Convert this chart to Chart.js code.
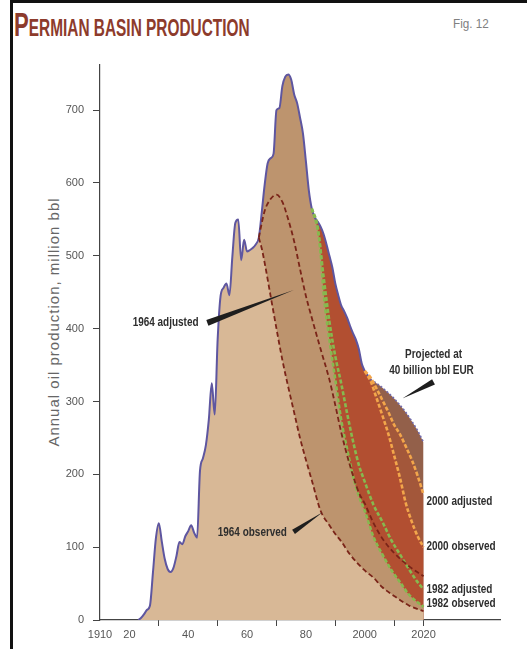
<!DOCTYPE html>
<html>
<head>
<meta charset="utf-8">
<script src="https://cdn.jsdelivr.net/npm/chart.js@4.4.0/dist/chart.umd.min.js"></script>
<style>
  body { margin: 0; width: 527px; height: 649px; position: relative; overflow: hidden; background: #fff; font-family: 'Liberation Sans', Arial, sans-serif }
  #frame { position: absolute; left: 10px; top: 0; right: 0; bottom: 0; border-top: 3px solid #111; border-left: 3px solid #111 }
  #title { position: absolute; left: 14px; top: 8px; color: #8d3b2c; font-family: 'Liberation Sans Narrow', 'Liberation Sans', sans-serif; font-weight: bold; white-space: nowrap; line-height: 34px; transform: scaleX(0.67); transform-origin: 0 0 }
  #title .big { font-size: 33px }
  #title .small { font-size: 23px }
  #fig { position: absolute; left: 453px; top: 17px; color: #808080; font-size: 13px; line-height: 13px; transform: scaleX(0.9); transform-origin: 0 0 }
  #ytitle { position: absolute; left: 53px; top: 322px; transform: translate(-50%, -50%) rotate(-90deg); white-space: nowrap; font-size: 15px; letter-spacing: 1px; color: #666 }
  #chart { position: absolute; left: 0; top: 0 }
</style>
</head>
<body>
<div id="frame"></div>
<div id="title"><span class="big">P</span><span class="small">ERMIAN BASIN PRODUCTION</span></div>
<div id="fig">Fig. 12</div>
<div id="ytitle">Annual oil production, million bbl</div>
<canvas id="chart" width="527" height="649"></canvas>
<script>
// historical production, million bbl/year
const histYears = [1923, 1924, 1925, 1926, 1927, 1928, 1929, 1930, 1931, 1932, 1933, 1934, 1935, 1936, 1937, 1938, 1939,
  1940, 1941, 1942, 1943, 1944, 1945, 1946, 1947, 1948, 1949, 1950, 1951, 1952, 1953, 1954, 1955, 1956, 1957, 1958, 1959,
  1960, 1961, 1962, 1963, 1964, 1965, 1966, 1967, 1968, 1969, 1970, 1971, 1972, 1973, 1974, 1975, 1976, 1977, 1978, 1979,
  1980, 1981, 1982, 1983, 1984, 1985, 1986, 1987, 1988, 1989, 1990, 1991, 1992, 1993, 1994, 1995, 1996, 1997, 1998, 1999,
  2000, 2001, 2002]
const histVals = [0, 3, 8, 14, 20, 65, 112, 133, 108, 84, 70, 66, 72, 88, 107, 104, 115,
  122, 130, 120, 113, 205, 222, 240, 275, 325, 282, 385, 445, 456, 462, 446, 499, 545, 550, 494, 522,
  506, 508, 511, 516, 525, 560, 598, 627, 634, 640, 700, 703, 733, 746, 749, 742, 722, 710, 690, 668,
  630, 590, 565, 553, 547, 540, 530, 516, 500, 484, 462, 446, 432, 424, 415, 404, 394, 385, 372, 352,
  342, 336, 330]

// projected at 40 billion bbl EUR
const projYears = [2002, 2004, 2006, 2008, 2010, 2012, 2014, 2016, 2018, 2020]
const projVals = [330, 325, 319, 312, 304, 295, 285, 273, 260, 244]

// forecasts
const obs64Years = [1964, 1965, 1966, 1968, 1970, 1972, 1974, 1976, 1978, 1980, 1982, 1985, 1988, 1990, 1992, 1995, 2000, 2003, 2006, 2010, 2015, 2020]
const obs64Vals = [525, 510, 490, 445, 400, 357, 320, 285, 250, 220, 192, 150, 130, 118, 108, 90, 68, 58, 45, 33, 20, 12]
const adj64Years = [1964, 1965, 1966, 1968, 1970, 1972, 1974, 1976, 1978, 1980, 1982, 1985, 1988, 1990, 1992, 1995, 1998, 2000, 2003, 2006, 2010, 2015, 2020]
const adj64Vals = [525, 545, 562, 578, 584, 574, 550, 520, 482, 445, 415, 372, 330, 295, 258, 212, 175, 160, 133, 112, 92, 74, 60]
const obs82Years = [1982, 1984, 1985, 1986, 1988, 1990, 1992, 1994, 1996, 1998, 2000, 2003, 2006, 2009, 2012, 2015, 2020]
const obs82Vals = [565, 536, 505, 450, 385, 330, 275, 235, 198, 170, 150, 114, 90, 69, 52, 35, 18]
const adj82Years = [1982, 1984, 1986, 1988, 1990, 1992, 1994, 1996, 1998, 2000, 2003, 2006, 2009, 2012, 2015, 2018, 2020]
const adj82Vals = [565, 540, 472, 410, 362, 325, 284, 246, 213, 190, 158, 135, 110, 90, 70, 52, 42]
const obs00Years = [2000, 2002, 2004, 2006, 2008, 2010, 2012, 2014, 2016, 2018, 2020]
const obs00Vals = [342, 328, 305, 281, 256, 226, 195, 160, 135, 115, 100]
const adj00Years = [2000, 2002, 2004, 2006, 2008, 2010, 2012, 2014, 2016, 2018, 2020]
const adj00Vals = [342, 333, 318, 302, 286, 268, 255, 238, 220, 198, 172]

const xTicks = [1910, 1920, 1930, 1940, 1950, 1960, 1970, 1980, 1990, 2000, 2010, 2020]
const xTickLabels = ['1910', '20', '', '40', '', '60', '', '80', '', '2000', '', '2020']
const yTicks = [0, 100, 200, 300, 400, 500, 600, 700]

function pts(xs, ys) {
  return xs.map((x, i) => ({ x: x, y: ys[i] }))
}

// history up to where a forecast starts, then the forecast
function outline(years, vals) {
  return pts(histYears, histVals).filter(p => p.x < years[0]).concat(pts(years, vals))
}

function area(data, color, order) {
  return { data: data, backgroundColor: color, borderWidth: 0, fill: 'origin', pointRadius: 0, order: order }
}

function line(data, color, width, dash) {
  return { data: data, borderColor: color, borderWidth: width, borderDash: dash, fill: false, pointRadius: 0, order: 1 }
}

function wedge(ctx, x1, y1, x2, y2, w) {
  const dx = x2 - x1, dy = y2 - y1, len = Math.hypot(dx, dy)
  const nx = -dy / len * w / 2, ny = dx / len * w / 2
  ctx.beginPath()
  ctx.moveTo(x1 + nx, y1 + ny)
  ctx.lineTo(x2, y2)
  ctx.lineTo(x1 - nx, y1 - ny)
  ctx.closePath()
  ctx.fill()
}

// condensed label: squeeze the bold face horizontally
function label(ctx, str, x, y, align) {
  ctx.save()
  ctx.translate(x, y)
  ctx.scale(0.83, 1)
  ctx.textAlign = align
  ctx.fillText(str, 0, 0)
  ctx.restore()
}

const notesPlugin = {
  id: 'notes',
  afterDraw(chart) {
    const ctx = chart.ctx
    const sx = chart.scales.x, sy = chart.scales.y
    const X = v => sx.getPixelForValue(v), Y = v => sy.getPixelForValue(v)
    ctx.save()
    ctx.fillStyle = '#2e2e2e'
    ctx.font = "bold 12px 'Liberation Sans', sans-serif"
    ctx.textBaseline = 'middle'
    label(ctx, '1964 adjusted', X(1932.3), Y(408), 'center')
    label(ctx, '1964 observed', X(1961.8), Y(120), 'center')
    label(ctx, 'Projected at', X(2023.4), Y(364), 'center')
    label(ctx, '40 billion bbl EUR', X(2022.7), Y(342), 'center')
    label(ctx, '2000 adjusted', X(2021), Y(163), 'left')
    label(ctx, '2000 observed', X(2021), Y(100), 'left')
    label(ctx, '1982 adjusted', X(2021), Y(41), 'left')
    label(ctx, '1982 observed', X(2021), Y(22), 'left')
    ctx.fillStyle = '#1e1e1e'
    wedge(ctx, X(1946.5), Y(408), X(1975.9), Y(453), 6)
    wedge(ctx, X(1975.8), Y(121), X(1985.7), Y(148), 5)
    wedge(ctx, X(2023.4), Y(327), X(2012.8), Y(304), 6)
    ctx.restore()
  }
}

new Chart(document.getElementById('chart'), {
  type: 'line',
  data: {
    datasets: [
      area(outline(projYears, projVals), '#93604a', 14),
      area(outline(adj00Years, adj00Vals), '#a3573a', 13),
      area(outline(obs00Years, obs00Vals), '#b24f31', 12),
      area(outline(obs82Years, obs82Vals), '#bd946e', 11),
      area(outline(obs64Years, obs64Vals), '#d8b896', 10),
      line(pts(obs64Years, obs64Vals), '#7a2418', 1.8, [5, 3]),
      line(pts(adj64Years, adj64Vals), '#7a2418', 1.8, [5, 3]),
      line(pts(obs82Years, obs82Vals), '#86b94f', 2.6, [4, 2]),
      line(pts(adj82Years, adj82Vals), '#86b94f', 2.6, [4, 2]),
      line(pts(obs00Years, obs00Vals), '#f3a64b', 2.6, [4, 2]),
      line(pts(adj00Years, adj00Vals), '#f3a64b', 2.6, [4, 2]),
      line(pts(projYears, projVals), '#7069aa', 1.6, [2, 2]),
      line(pts(histYears, histVals), '#5e56a0', 2, [])
    ]
  },
  options: {
    responsive: false,
    animation: false,
    cubicInterpolationMode: 'monotone',
    layout: { padding: { top: 65, right: 27, left: 0, bottom: 0 } },
    plugins: { legend: { display: false }, tooltip: { enabled: false } },
    scales: {
      x: {
        type: 'linear',
        min: 1910,
        max: 2046,
        afterBuildTicks: s => { s.ticks = xTicks.map(v => ({ value: v })) },
        afterFit: s => { s.height = 29 },
        ticks: {
          autoSkip: false,
          maxRotation: 0,
          padding: 2,
          color: '#555',
          font: { family: "'Liberation Sans', sans-serif", size: 11 },
          callback: (v, i) => xTickLabels[i]
        },
        grid: {
          drawOnChartArea: false,
          tickLength: 6,
          tickColor: c => (xTickLabels[c.index] === '' || c.tick.value === 2020) ? '#444' : 'rgba(0,0,0,0)'
        },
        border: { color: '#444', width: 1.2 }
      },
      y: {
        min: 0,
        max: 762,
        afterBuildTicks: s => { s.ticks = yTicks.map(v => ({ value: v })) },
        afterFit: s => { s.width = 100 },
        ticks: { padding: 9, color: '#555', font: { family: "'Liberation Sans', sans-serif", size: 11 } },
        grid: { drawOnChartArea: false, tickLength: 7, tickColor: '#444' },
        border: { color: '#444', width: 1.2 }
      }
    }
  },
  plugins: [notesPlugin]
})
</script>
</body>
</html>
